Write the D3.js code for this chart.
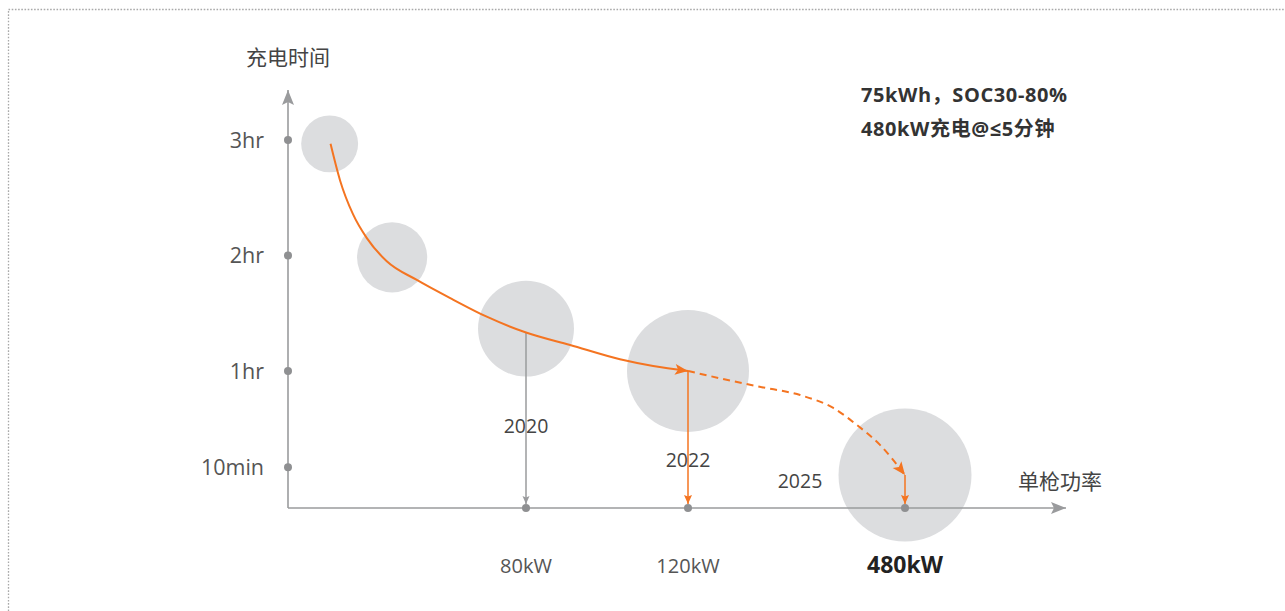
<!DOCTYPE html>
<html>
<head>
<meta charset="utf-8">
<script src="https://cdn.jsdelivr.net/npm/d3@7/dist/d3.min.js"></script>
<style>
  html, body { margin: 0; padding: 0; background: #fff; }
  svg { display: block; }
  text { font-family: "Open Sans", "Noto Sans CJK SC", sans-serif; }
</style>
</head>
<body>
<svg id="chart" width="1285" height="611"></svg>
<script>
// ---- data ----
// charging-time axis ticks (minutes) and their labels
const timeTicks = [180, 120, 60, 10];
const timeTickLabels = ["3hr", "2hr", "1hr", "10min"];
// power axis ticks (kW) and their labels
const powerTicks = [80, 120, 480];
const powerTickLabels = ["80kW", "120kW", "480kW"];

// bubbles: single-gun power (kW), charging time (min), relative bubble weight
const bubblePower = [14, 35, 80, 120, 480];
const bubbleMinutes = [178, 119, 82, 60, 6];
const bubbleWeight = [8.1, 12.3, 23.0, 37.2, 44.2];

// historical trend (solid line)
const trendPower = [14.3, 17.5, 21.8, 26.5, 33.2, 43.3, 55.6, 66.8, 80, 90.9, 103.2, 111.4, 120];
const trendMinutes = [178, 159, 141.6, 129, 117, 107.3, 97, 88.2, 80, 73.5, 66.1, 62.6, 60];

// forecast (dashed line)
const forecastPower = [120, 173, 239, 306, 361, 400, 438.5, 480];
const forecastMinutes = [60, 56.2, 51.8, 47.5, 40.8, 32, 21.6, 6];

// year markers
const years = ["2020", "2022", "2025"];
const yearPower = [80, 120, 480];
const yearMinutes = [80, 60, 6];

const axisTitleY = "充电时间";
const axisTitleX = "单枪功率";
const noteLines = ["75kWh，SOC30-80%", "480kW充电@≤5分钟"];

// ---- layout ----
const W = 1285, H = 611;
const originX = 288, baseY = 508;
const axisTopY = 90, axisRightX = 1066;
const orange = "#f47421";
const axisGrey = "#9a9b9d";
const dotGrey = "#8f9092";
const bubbleFill = "#dcdddf";

const svg = d3.select("#chart");

// piecewise power scale (schematic spacing)
const x = d3.scaleLinear().domain([0, 80, 120, 480]).range([originX, 526, 688, 905]);
const y = d3.scaleLinear().domain([10, 180]).range([467.25, 140]);
const r = d3.scaleSqrt().domain([0, d3.max(bubbleWeight)]).range([0, 66.5]);

// dotted frame
svg.append("rect")
  .attr("x", 8.5).attr("y", 9.5)
  .attr("width", W + 20).attr("height", H + 20)
  .attr("fill", "none").attr("stroke", "#a9a9a9")
  .attr("stroke-width", 1.3).attr("stroke-dasharray", "1.6,1.6");

// markers
const defs = svg.append("defs");
function barbed(id, color, len, half, back) {
  defs.append("marker")
    .attr("id", id).attr("markerUnits", "userSpaceOnUse")
    .attr("viewBox", `${-len - 1} ${-half - 1} ${len + 2} ${half * 2 + 2}`)
    .attr("refX", 0).attr("refY", 0)
    .attr("markerWidth", len + 2).attr("markerHeight", half * 2 + 2)
    .attr("orient", "auto")
    .append("path")
    .attr("d", `M0,0 L${-len},${-half} L${-len + back},0 L${-len},${half} Z`)
    .attr("fill", color);
}
barbed("axisHead", axisGrey, 15, 6, 3);
barbed("greyDrop", axisGrey, 8, 3.5, 1.5);
barbed("orangeDrop", orange, 9, 4, 1.5);
barbed("orangeBig", orange, 13, 5.5, 3);

// bubbles
const bubbles = bubblePower.map((p, i) => ({ p, m: bubbleMinutes[i], w: bubbleWeight[i] }));
svg.append("g").selectAll("circle").data(bubbles).join("circle")
  .attr("cx", d => x(d.p)).attr("cy", d => y(d.m)).attr("r", d => r(d.w))
  .attr("fill", bubbleFill);

// axes
svg.append("line")
  .attr("x1", originX).attr("y1", baseY).attr("x2", originX).attr("y2", axisTopY)
  .attr("stroke", axisGrey).attr("stroke-width", 1.6).attr("marker-end", "url(#axisHead)");
svg.append("line")
  .attr("x1", originX).attr("y1", baseY).attr("x2", axisRightX).attr("y2", baseY)
  .attr("stroke", axisGrey).attr("stroke-width", 1.6).attr("marker-end", "url(#axisHead)");

// drop lines from the curve to the power axis
const drops = yearPower.map((p, i) => ({ p, m: yearMinutes[i], color: i === 0 ? axisGrey : orange, mk: i === 0 ? "greyDrop" : "orangeDrop" }));
svg.append("g").selectAll("line").data(drops).join("line")
  .attr("x1", d => x(d.p)).attr("x2", d => x(d.p))
  .attr("y1", d => y(d.m)).attr("y2", baseY - 4)
  .attr("stroke", d => d.color).attr("stroke-width", 1.5)
  .attr("marker-end", d => `url(#${d.mk})`);

// trend + forecast curves
const line = d3.line().x(d => x(d[0])).y(d => y(d[1])).curve(d3.curveMonotoneX);
svg.append("path")
  .attr("d", line(trendPower.map((p, i) => [p, trendMinutes[i]])))
  .attr("fill", "none").attr("stroke", orange).attr("stroke-width", 2)
  .attr("marker-end", "url(#orangeBig)");
svg.append("path")
  .attr("d", line(forecastPower.map((p, i) => [p, forecastMinutes[i]])))
  .attr("fill", "none").attr("stroke", orange).attr("stroke-width", 2)
  .attr("stroke-dasharray", "7,5")
  .attr("marker-end", "url(#orangeBig)");

// tick dots
svg.append("g").selectAll("circle").data(timeTicks).join("circle")
  .attr("cx", originX).attr("cy", d => y(d)).attr("r", 4).attr("fill", dotGrey);
svg.append("g").selectAll("circle").data(powerTicks).join("circle")
  .attr("cx", d => x(d)).attr("cy", baseY).attr("r", 4).attr("fill", dotGrey);

// tick labels
svg.append("g").selectAll("text").data(timeTicks).join("text")
  .attr("x", originX - 24).attr("y", d => y(d))
  .attr("dy", "0.36em").attr("text-anchor", "end")
  .attr("font-size", 21.5).attr("fill", "#555")
  .text((d, i) => timeTickLabels[i]);
svg.append("g").selectAll("text").data(powerTicks).join("text")
  .attr("x", d => x(d)).attr("y", 573)
  .attr("text-anchor", "middle")
  .attr("font-size", (d, i) => i === 2 ? 23 : 20)
  .attr("font-weight", (d, i) => i === 2 ? 700 : 400)
  .attr("fill", (d, i) => i === 2 ? "#222" : "#555")
  .text((d, i) => powerTickLabels[i]);

// year labels
const yearPos = [{ dx: 0, y: 433 }, { dx: 0, y: 467 }, { dx: -105, y: 488 }];
svg.append("g").selectAll("text").data(years).join("text")
  .attr("x", (d, i) => x(yearPower[i]) + yearPos[i].dx).attr("y", (d, i) => yearPos[i].y)
  .attr("text-anchor", "middle").attr("font-size", 19.5).attr("fill", "#444")
  .text(d => d);

// axis titles
svg.append("text").attr("x", originX).attr("y", 65)
  .attr("text-anchor", "middle").attr("font-size", 21).attr("fill", "#444")
  .text(axisTitleY);
svg.append("text").attr("x", 1018).attr("y", 489)
  .attr("font-size", 21).attr("fill", "#444")
  .text(axisTitleX);

// note
svg.append("g").selectAll("text").data(noteLines).join("text")
  .attr("x", 861).attr("y", (d, i) => 102 + i * 34)
  .attr("font-size", 20).attr("font-weight", 700).attr("fill", "#333")
  .attr("letter-spacing", 0.6)
  .text(d => d);
</script>
</body>
</html>
